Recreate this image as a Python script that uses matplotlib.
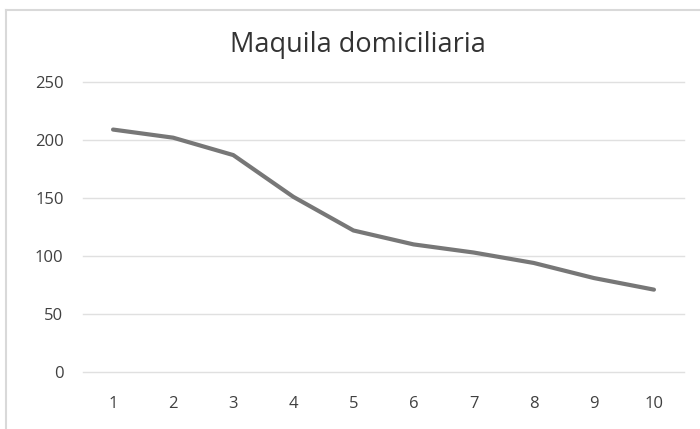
import matplotlib
matplotlib.use("Agg")
import matplotlib.pyplot as plt
from matplotlib.lines import Line2D

categories = [1, 2, 3, 4, 5, 6, 7, 8, 9, 10]
values = [209, 202, 187, 151, 122, 110, 103, 94, 81, 71]
yticks = [0, 50, 100, 150, 200, 250]
title = "Maquila domiciliaria"

plt.rcParams['font.family'] = ['Open Sans', 'DejaVu Sans']

W, H = 700, 429
fig = plt.figure(figsize=(7, 4.29), dpi=100)
ax = fig.add_axes([83 / W, 1 - 372 / H, (684 - 83) / W, (372 - 82) / H])

x = list(range(len(categories)))
ax.plot(x, values, color='#777777', linewidth=3.0, solid_capstyle='round', zorder=3)
ax.set_xlim(-0.5, len(categories) - 0.5)
ax.set_ylim(0, 250)
ax.set_yticks(yticks)
ax.set_xticks(x)
ax.set_xticklabels([str(c) for c in categories])
ax.grid(axis='y', color='#e0e0e0', linewidth=1.0)
for gl in ax.get_ygridlines():
    gl.set_clip_on(False)
ax.set_axisbelow(True)
for s in ax.spines.values():
    s.set_visible(False)
ax.tick_params(axis='both', length=0, labelsize=12, colors='#404040')
ax.tick_params(axis='y', pad=14)
ax.tick_params(axis='x', pad=17)

fig.text(358 / W, 1 - 45 / H, title, ha='center', va='center',
         fontsize=19.5, color='#333333')

# chart area border (top and left visible)
fig.add_artist(Line2D([6 / W, 1.0], [1 - 10 / H, 1 - 10 / H],
                      transform=fig.transFigure, color='#d9d9d9', linewidth=1.5))
fig.add_artist(Line2D([6 / W, 6 / W], [0, 1 - 10 / H],
                      transform=fig.transFigure, color='#d9d9d9', linewidth=1.5))

fig.savefig('out.png', dpi=100)
